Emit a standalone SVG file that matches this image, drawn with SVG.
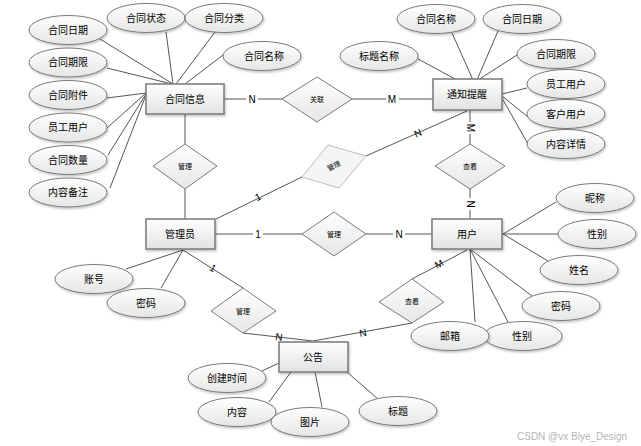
<svg xmlns="http://www.w3.org/2000/svg" width="641" height="446" viewBox="0 0 641 446">
<defs>
<linearGradient id="gE" x1="0" y1="0" x2="0" y2="1"><stop offset="0" stop-color="#ffffff"/><stop offset="1" stop-color="#e6e6e6"/></linearGradient>
<linearGradient id="gB" x1="0" y1="0" x2="0" y2="1"><stop offset="0" stop-color="#ffffff"/><stop offset="1" stop-color="#e2e2e2"/></linearGradient>
<filter id="sh" x="-20%" y="-20%" width="150%" height="160%"><feDropShadow dx="1" dy="1.5" stdDeviation="0.8" flood-color="#000" flood-opacity="0.25"/></filter>
</defs>
<style>
text{font-family:"Liberation Sans","Noto Sans CJK SC",sans-serif;fill:#000;text-anchor:middle;dominant-baseline:central}
.e ellipse{fill:url(#gE);stroke:#7a7a7a;stroke-width:1;filter:url(#sh)}
.e text,.b text{font-size:10px}
.b rect{fill:url(#gB);stroke:#808080;stroke-width:1.6;filter:url(#sh)}
.d polygon{fill:url(#gE);stroke:#7a7a7a;stroke-width:1}
.d text{font-size:7px}
.d.lt polygon{fill:#f5f5f5;stroke:#bdbdbd}
#conn line{stroke:#555;stroke-width:1}
.lb{font-size:10px}
.wm{font-size:10px;fill:#b4b4b4;text-anchor:start}
</style>
<rect width="641" height="446" fill="#fff"/>
<g id="conn">
<line x1="100" y1="39" x2="173" y2="84"/>
<line x1="107" y1="68" x2="172" y2="84"/>
<line x1="107" y1="98" x2="146" y2="93"/>
<line x1="107" y1="128" x2="146" y2="93"/>
<line x1="108" y1="155" x2="146" y2="94"/>
<line x1="110" y1="188" x2="146" y2="95"/>
<line x1="166" y1="32" x2="173" y2="84"/>
<line x1="215" y1="32" x2="176" y2="84"/>
<line x1="223" y1="55" x2="185" y2="84"/>
<line x1="418" y1="59" x2="457" y2="80"/>
<line x1="452" y1="33" x2="473" y2="80"/>
<line x1="498" y1="31" x2="477" y2="80"/>
<line x1="517" y1="55" x2="478" y2="80"/>
<line x1="527" y1="88" x2="502" y2="94"/>
<line x1="528" y1="117" x2="502" y2="96"/>
<line x1="528" y1="144" x2="502" y2="98"/>
<line x1="556" y1="202" x2="503" y2="234"/>
<line x1="558" y1="234" x2="503" y2="234"/>
<line x1="548" y1="261" x2="503" y2="234"/>
<line x1="532" y1="296" x2="470" y2="249"/>
<line x1="475" y1="322" x2="470" y2="249"/>
<line x1="508" y1="322" x2="470" y2="249"/>
<line x1="126" y1="269" x2="183" y2="250"/>
<line x1="161" y1="288" x2="183" y2="250"/>
<line x1="262" y1="371" x2="279" y2="363"/>
<line x1="269" y1="402" x2="291" y2="372"/>
<line x1="322" y1="407" x2="315" y2="372"/>
<line x1="378" y1="399" x2="347" y2="372"/>
<line x1="224" y1="99" x2="282" y2="99"/>
<line x1="352" y1="99" x2="433" y2="99"/>
<line x1="185" y1="114" x2="185" y2="144"/>
<line x1="185" y1="189" x2="185" y2="219"/>
<line x1="470" y1="110" x2="470" y2="144"/>
<line x1="470" y1="189" x2="470" y2="219"/>
<line x1="467" y1="111" x2="366" y2="156"/>
<line x1="302" y1="177" x2="216" y2="219"/>
<line x1="215" y1="234" x2="302" y2="234"/>
<line x1="366" y1="234" x2="432" y2="234"/>
<line x1="183" y1="250" x2="243" y2="288"/>
<line x1="243" y1="333" x2="313" y2="341"/>
<line x1="412" y1="323" x2="313" y2="341"/>
<line x1="412" y1="279" x2="467" y2="250"/>
</g>
<g id="labels">
<rect x="246" y="93" width="12" height="12" fill="#fff"/><text class="lb" x="252" y="99">N</text>
<rect x="386" y="93" width="13" height="12" fill="#fff"/><text class="lb" x="392" y="99">M</text>
<rect x="464" y="122" width="12" height="12" fill="#fff"/><text class="lb" x="470" y="128" transform="rotate(90 470 128)">M</text>
<rect x="464" y="198" width="12" height="12" fill="#fff"/><text class="lb" x="470" y="204" transform="rotate(90 470 204)">N</text>
<text class="lb" x="418" y="133" transform="rotate(-24 418 133)">N</text>
<text class="lb" x="258" y="197" transform="rotate(-26 258 197)">1</text>
<rect x="253" y="228" width="10" height="12" fill="#fff"/><text class="lb" x="258" y="234">1</text>
<rect x="393" y="228" width="12" height="12" fill="#fff"/><text class="lb" x="399" y="234">N</text>
<text class="lb" x="213" y="268" font-size="8" transform="rotate(32 213 268)">1</text>
<text class="lb" x="279" y="337" font-size="8" transform="rotate(6 279 337)">N</text>
<text class="lb" x="363" y="333" font-size="8" transform="rotate(-10 363 333)">N</text>
<text class="lb" x="439" y="264" font-size="8" transform="rotate(-28 439 264)">M</text>
</g>
<g id="e-htrq" class="e"><ellipse cx="68" cy="30" rx="39" ry="14.5"/><text x="68" y="30">合同日期</text></g>
<g id="e-htqx" class="e"><ellipse cx="68" cy="62.5" rx="39" ry="14.5"/><text x="68" y="62.5">合同期限</text></g>
<g id="e-htfj" class="e"><ellipse cx="68" cy="95" rx="39" ry="14.5"/><text x="68" y="95">合同附件</text></g>
<g id="e-ygyh" class="e"><ellipse cx="68" cy="127.5" rx="39" ry="14.5"/><text x="68" y="127.5">员工用户</text></g>
<g id="e-htsl" class="e"><ellipse cx="68" cy="160" rx="39" ry="14.5"/><text x="68" y="160">合同数量</text></g>
<g id="e-nrbz" class="e"><ellipse cx="68" cy="192.5" rx="39" ry="14.5"/><text x="68" y="192.5">内容备注</text></g>
<g id="e-htzt" class="e"><ellipse cx="146" cy="18" rx="39" ry="14.5"/><text x="146" y="18">合同状态</text></g>
<g id="e-htfl" class="e"><ellipse cx="224" cy="18" rx="39" ry="14.5"/><text x="224" y="18">合同分类</text></g>
<g id="e-htmc" class="e"><ellipse cx="262" cy="56" rx="39" ry="14.5"/><text x="264" y="56">合同名称</text></g>
<g id="e-htmc2" class="e"><ellipse cx="436" cy="19" rx="39" ry="14.5"/><text x="436" y="19">合同名称</text></g>
<g id="e-htrq2" class="e"><ellipse cx="522" cy="19" rx="39" ry="14.5"/><text x="522" y="19">合同日期</text></g>
<g id="e-btmc" class="e"><ellipse cx="379" cy="56" rx="39" ry="14.5"/><text x="379" y="56">标题名称</text></g>
<g id="e-htqx2" class="e"><ellipse cx="556" cy="54" rx="39" ry="14.5"/><text x="556" y="54">合同期限</text></g>
<g id="e-ygyh2" class="e"><ellipse cx="566" cy="84" rx="39" ry="14.5"/><text x="566" y="84">员工用户</text></g>
<g id="e-khyh" class="e"><ellipse cx="566" cy="114" rx="39" ry="14.5"/><text x="566" y="114">客户用户</text></g>
<g id="e-nrxq" class="e"><ellipse cx="566" cy="144" rx="39" ry="14.5"/><text x="566" y="144">内容详情</text></g>
<g id="e-nc" class="e"><ellipse cx="595" cy="198" rx="39" ry="14.5"/><text x="595" y="198">昵称</text></g>
<g id="e-xb" class="e"><ellipse cx="597" cy="234" rx="39" ry="14.5"/><text x="597" y="234">性别</text></g>
<g id="e-xm" class="e"><ellipse cx="579" cy="270" rx="39" ry="14.5"/><text x="579" y="270">姓名</text></g>
<g id="e-mm2" class="e"><ellipse cx="561" cy="306" rx="39" ry="14.5"/><text x="561" y="306">密码</text></g>
<g id="e-xb2" class="e"><ellipse cx="523" cy="336" rx="39" ry="14.5"/><text x="522" y="336">性别</text></g>
<g id="e-yx" class="e"><ellipse cx="450" cy="336" rx="39" ry="14.5"/><text x="450" y="336">邮箱</text></g>
<g id="e-zh" class="e"><ellipse cx="94" cy="279" rx="39" ry="14.5"/><text x="94" y="279">账号</text></g>
<g id="e-mm" class="e"><ellipse cx="146" cy="303" rx="39" ry="14.5"/><text x="146" y="303">密码</text></g>
<g id="e-cjsj" class="e"><ellipse cx="227" cy="378" rx="39" ry="14.5"/><text x="227" y="378">创建时间</text></g>
<g id="e-nr" class="e"><ellipse cx="237" cy="412" rx="39" ry="14.5"/><text x="237" y="412">内容</text></g>
<g id="e-tp" class="e"><ellipse cx="310" cy="422" rx="39" ry="14.5"/><text x="310" y="422">图片</text></g>
<g id="e-bt" class="e"><ellipse cx="398" cy="411" rx="39" ry="14.5"/><text x="398" y="411">标题</text></g>
<g id="r-gl" class="d"><polygon points="282,99 317,77 352,99 317,122"/><text x="317" y="99">关联</text></g>
<g id="r-gl1" class="d"><polygon points="153,166 185,144 217,166 185,189"/><text x="185" y="166">管理</text></g>
<g id="r-ck1" class="d"><polygon points="435,166 470,144 505,166 470,189"/><text x="470" y="166">查看</text></g>
<g id="r-gl2" class="d lt"><polygon points="302,177 328,145 366,156 339,188"/><text x="334" y="166" transform="rotate(-26 334 166)">管理</text></g>
<g id="r-gl3" class="d"><polygon points="302,234 334,212 366,234 334,256"/><text x="334" y="234">管理</text></g>
<g id="r-gl4" class="d"><polygon points="211,311 243,288 276,311 243,333"/><text x="243" y="311">管理</text></g>
<g id="r-ck2" class="d"><polygon points="379,302 412,279 444,302 412,323"/><text x="412" y="301">查看</text></g>
<g id="n-htxx" class="b"><rect x="146" y="84" width="78" height="30"/><text x="185" y="99">合同信息</text></g>
<g id="n-tztx" class="b"><rect x="433" y="79" width="69" height="31"/><text x="467" y="94.5">通知提醒</text></g>
<g id="n-gly" class="b"><rect x="146" y="219" width="69" height="30"/><text x="180" y="234">管理员</text></g>
<g id="n-yh" class="b"><rect x="432" y="219" width="70" height="30"/><text x="467" y="234">用户</text></g>
<g id="n-gg" class="b"><rect x="279" y="342" width="69" height="30"/><text x="313" y="357">公告</text></g>
<text class="wm" x="517" y="436">CSDN @vx Biye_Design</text>
</svg>
